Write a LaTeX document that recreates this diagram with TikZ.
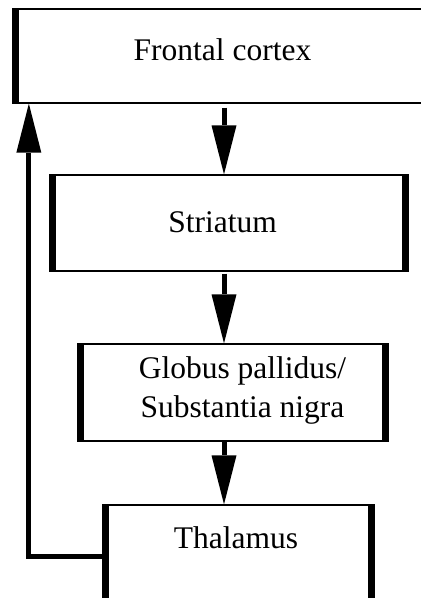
\documentclass[tikz,border=0pt]{standalone}
\usepackage{fontspec}
\setmainfont{Liberation Serif}
\usetikzlibrary{arrows.meta}

\tikzset{
  region/.style={draw, line width=1.3pt, inner sep=0pt},
  rim/.style={line width=6.5pt},
  flow/.style={line width=5pt, -{Triangle[length=49pt,width=25pt,line width=0pt 0]}},
  lbl/.style={anchor=base, inner sep=0pt, font=\fontsize{31.5}{39}\selectfont},
}

\begin{document}
\begin{tikzpicture}[x=1pt, y=-1pt]
  \clip (0,0) rectangle (421,598);
  % Boxes
  \node[region, minimum width=424pt, minimum height=94pt] (fc) at (228,56) {};
  \node[region, minimum width=352pt, minimum height=96pt] (str) at (229,223) {};
  \node[region, minimum width=304pt, minimum height=97pt] (gp) at (233,392.5) {};
  \node[region, minimum width=265pt, minimum height=102pt] (th) at (238.5,556) {};
  % Heavy side edges
  \draw[rim] (fc.north west) -- (fc.south west);
  \foreach \b in {str,gp,th}
    \draw[rim] (\b.north west) -- (\b.south west) (\b.north east) -- (\b.south east);
  % Labels (base = last line)
  \node[lbl] (fc-l) at (222.5,60) {Frontal cortex};
  \node[lbl] (str-l) at (222.5,232) {Striatum};
  \node[lbl, align=center] (gp-l) at (242.5,417) {Globus pallidus/\\Substantia nigra};
  \node[lbl] (th-l) at (236,548) {Thalamus};
  % Pathway down the loop
  \coordinate (spine) at (224,0);
  \draw[flow, shorten <=4pt] (fc.south -| spine) -- (str.north -| spine);
  \draw[flow, shorten <=2pt] (str.south -| spine) -- (gp.north -| spine);
  \draw[flow] (gp.south -| spine) -- (th.north -| spine);
  % Feedback to cortex
  \draw[flow] (th.west) -| ([xshift=13.5pt]fc.south west);
\end{tikzpicture}
\end{document}
